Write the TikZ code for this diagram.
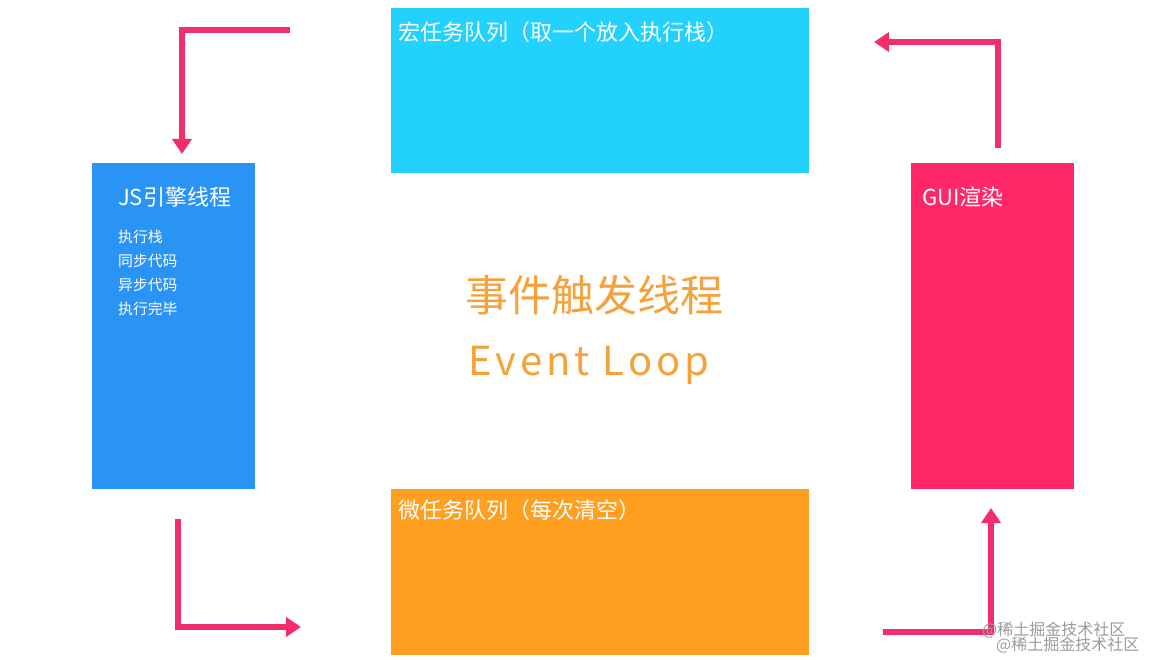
\documentclass[tikz,border=0pt]{standalone}
\usepackage{fontspec}
\setmainfont{Noto Sans CJK SC}
\usetikzlibrary{arrows.meta}
\definecolor{macroc}{HTML}{22D2FD}
\definecolor{jsc}{HTML}{2A94F5}
\definecolor{guic}{HTML}{FF2768}
\definecolor{microc}{HTML}{FF9F20}
\definecolor{arrowc}{HTML}{F22D69}
\definecolor{centerc}{HTML}{F5A23A}
\definecolor{wmc}{HTML}{9A9A9A}
\tikzset{
  box/.style={draw=none, inner sep=0pt, outer sep=0pt, anchor=north west},
  boxlabel/.style={text=white, inner sep=0pt, anchor=west, font=\fontsize{22pt}{26pt}\selectfont},
  itemlabel/.style={text=white, inner sep=0pt, anchor=west, font=\fontsize{14.8pt}{17pt}\selectfont},
  flow/.style={draw=arrowc, line width=6pt, line join=miter, -{Triangle[width=19pt,length=15pt]}},
  wm/.style={text=wmc, inner sep=0pt, anchor=west, font=\fontsize{16pt}{18pt}\selectfont}
}
\begin{document}
\begin{tikzpicture}[x=1pt,y=-1pt]
\useasboundingbox (0,0) rectangle (1161,660);
% boxes
\node[box, fill=macroc, minimum width=418pt, minimum height=165pt] (macro) at (391,8) {};
\node[box, fill=jsc, minimum width=163pt, minimum height=326pt] (js) at (92,163) {};
\node[box, fill=guic, minimum width=163pt, minimum height=326pt] (gui) at (911,163) {};
\node[box, fill=microc, minimum width=418pt, minimum height=166pt] (micro) at (391,489) {};
% labels
\node[boxlabel] (macrot) at (398,32) {宏任务队列（取一个放入执行栈）};
\node[boxlabel] (microt) at (398,510) {微任务队列（每次清空）};
\node[boxlabel] (jst) at (118,197) {JS引擎线程};
\node[itemlabel] (i1) at (118,237) {执行栈};
\node[itemlabel] (i2) at (118,261) {同步代码};
\node[itemlabel] (i3) at (118,285) {异步代码};
\node[itemlabel] (i4) at (118,309) {执行完毕};
\node[boxlabel] (guit) at (922,197) {GUI渲染};
% centre
\node[text=centerc, inner sep=0pt, font=\fontsize{43pt}{48pt}\selectfont] (title) at (594,295) {事件触发线程};
\node[text=centerc, inner sep=0pt, font=\fontsize{40pt}{46pt}\selectfont\addfontfeature{LetterSpace=10}] (loop) at (589,365) {Event Loop};
% arrow coordinates
\coordinate (a1s) at (290,30);
\coordinate (a1c) at (182,30);
\coordinate (a1e) at (182,154);
\coordinate (a2s) at (998,148);
\coordinate (a2c) at (998,42);
\coordinate (a2e) at (874,42);
\coordinate (a3s) at (178,519);
\coordinate (a3c) at (178,627);
\coordinate (a3e) at (301,627);
\coordinate (a4s) at (883,632);
\coordinate (a4c) at (991,632);
\coordinate (a4e) at (991,508);
\draw[flow] (a1s) -- (a1c) -- (a1e);
\draw[flow] (a2s) -- (a2c) -- (a2e);
\draw[flow] (a3s) -- (a3c) -- (a3e);
\draw[flow] (a4s) -- (a4c) -- (a4e);
% watermark
\node[wm] (wm1) at (982,630) {@稀土掘金技术社区};
\node[wm] (wm2) at (996,645) {@稀土掘金技术社区};
\end{tikzpicture}
\end{document}
